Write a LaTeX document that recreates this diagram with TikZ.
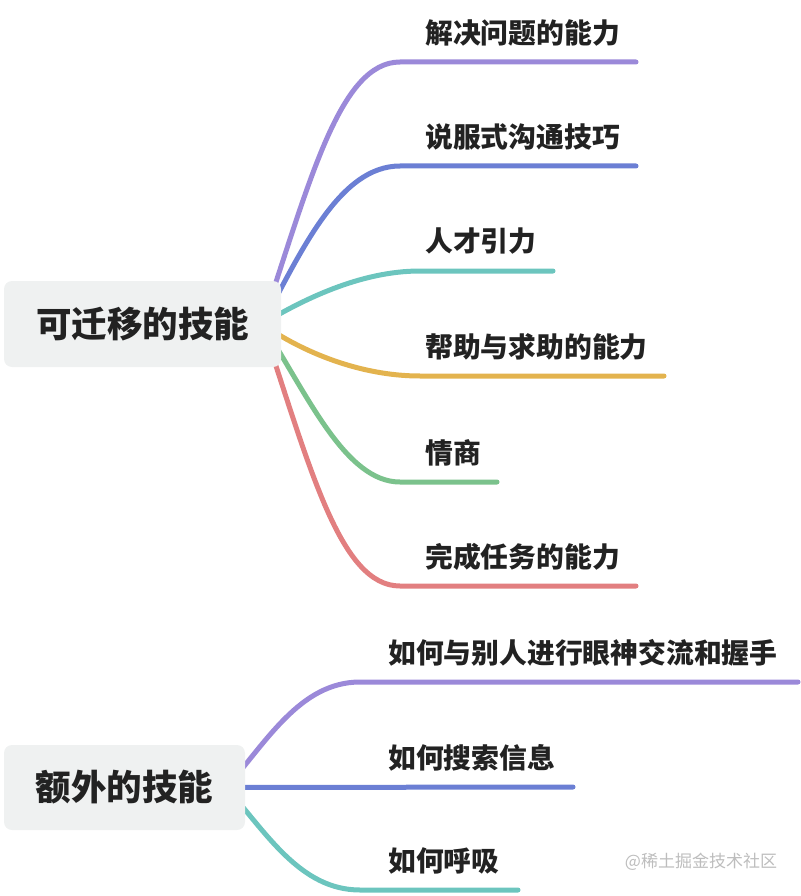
\documentclass[tikz,border=0pt]{standalone}
\usepackage{fontspec}
\setmainfont{Noto Sans CJK SC}
\usetikzlibrary{backgrounds,calc}
\definecolor{MapText}{HTML}{222222}
\definecolor{MapBack}{HTML}{EFF1F1}
\definecolor{MapMark}{HTML}{BDBDBD}
\definecolor{MapPurple}{HTML}{9B89D9}
\definecolor{MapBlue}{HTML}{6B7FD4}
\definecolor{MapTeal}{HTML}{6CC5BE}
\definecolor{MapYellow}{HTML}{E3B34E}
\definecolor{MapGreen}{HTML}{7BC28C}
\definecolor{MapRed}{HTML}{E27F80}

\begin{document}
\begin{tikzpicture}[x=1pt,y=-1pt,text=MapText,
 rootbox/.style={fill=MapBack,rounded corners=8pt,inner sep=0pt,font=\fontsize{35.5}{40}\selectfont\bfseries},
 leaf/.style={anchor=west,inner sep=0pt,font=\fontsize{27.8}{32}\selectfont\bfseries},
 branch/.style={line width=5pt,line cap=round,draw=#1}]
 \useasboundingbox (0,0) rectangle (800,896);
 \node[rootbox,minimum width=277pt,minimum height=86pt] (r1) at (142.5,324) {可迁移的技能};
 \node[rootbox,minimum width=241pt,minimum height=85pt] (r2) at (124.5,787.5) {额外的技能};
 \coordinate (r1s) at ($(r1.east)+(-19,0)$);
 \coordinate (r2s) at ($(r2.east)+(-19,0)$);
 \node[leaf] (l1) at (425,32.5) {解决问题的能力};
 \node[leaf] (l2) at (425,136.5) {说服式沟通技巧};
 \node[leaf] (l3) at (425,241.5) {人才引力};
 \node[leaf] (l4) at (425,346.5) {帮助与求助的能力};
 \node[leaf] (l5) at (425,452.5) {情商};
 \node[leaf] (l6) at (425,556.5) {完成任务的能力};
 \node[leaf] (m1) at (388,652.5) {如何与别人进行眼神交流和握手};
 \node[leaf] (m2) at (388,757.5) {如何搜索信息};
 \node[leaf] (m3) at (388,860.5) {如何呼吸};
 \node[text=MapMark,font=\fontsize{17}{20}\selectfont] (mark) at (701,862) {@稀土掘金技术社区};
 \begin{scope}[on background layer]
 \draw[branch=MapPurple] (r1s) .. controls +(48,-144) and +(-60,0) .. (400,62) -- (636,62);
 \draw[branch=MapBlue] (r1s) .. controls +(40,-75) and +(-60,0) .. (400,166) -- (636,166);
 \draw[branch=MapTeal] (r1s) .. controls +(40,-24) and +(-60,0) .. (420,271) -- (553,271);
 \draw[branch=MapYellow] (r1s) .. controls +(40,28) and +(-60,0) .. (420,376) -- (664,376);
 \draw[branch=MapGreen] (r1s) .. controls +(45,70) and +(-55,0) .. (400,482) -- (497,482);
 \draw[branch=MapRed] (r1s) .. controls +(48,144) and +(-60,0) .. (400,586) -- (636,586);
 \draw[branch=MapPurple] (r2s) .. controls +(40,-45) and +(-60,0) .. (360,682) -- (798,682);
 \draw[branch=MapBlue] (r2s) -- (573,787);
 \draw[branch=MapTeal] (r2s) .. controls +(40,45) and +(-60,0) .. (360,890) -- (518,890);
 \end{scope}
\end{tikzpicture}
\end{document}
